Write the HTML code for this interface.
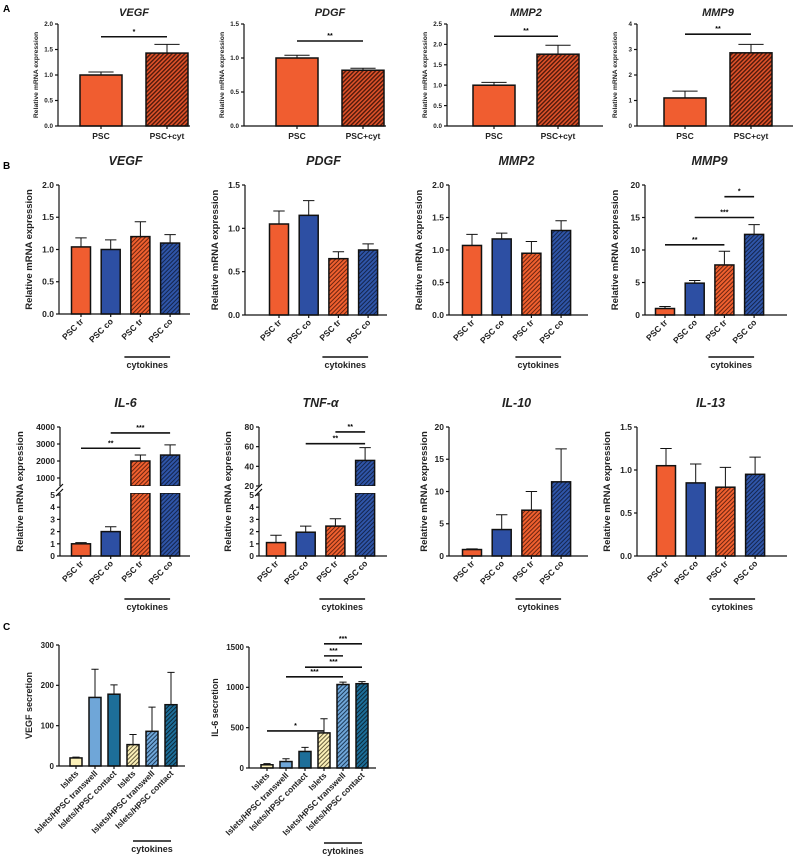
<!DOCTYPE html>
<html><head><meta charset="utf-8"><style>
body{margin:0;background:#fff;}
svg{display:block;font-family:"Liberation Sans",sans-serif;}
</style></head><body>
<svg id="fig" width="797" height="858" viewBox="0 0 797 858" xmlns="http://www.w3.org/2000/svg">
<defs>
<pattern id="hA" patternUnits="userSpaceOnUse" width="3" height="3" patternTransform="rotate(45)"><rect width="3" height="3" fill="#e0522a"/><rect width="1.4" height="3" fill="#4e190b"/></pattern>
<pattern id="hO" patternUnits="userSpaceOnUse" width="3" height="3" patternTransform="rotate(45)"><rect width="3" height="3" fill="#f0602f"/><rect width="1" height="3" fill="#6b2410"/></pattern>
<pattern id="hB" patternUnits="userSpaceOnUse" width="3" height="3" patternTransform="rotate(45)"><rect width="3" height="3" fill="#2f55a8"/><rect width="1" height="3" fill="#14254d"/></pattern>
<pattern id="hY" patternUnits="userSpaceOnUse" width="3" height="3" patternTransform="rotate(45)"><rect width="3" height="3" fill="#fbf0b8"/><rect width="1" height="3" fill="#6a6040"/></pattern>
<pattern id="hL" patternUnits="userSpaceOnUse" width="3" height="3" patternTransform="rotate(45)"><rect width="3" height="3" fill="#6fa6d8"/><rect width="1" height="3" fill="#1d3b5a"/></pattern>
<pattern id="hT" patternUnits="userSpaceOnUse" width="3" height="3" patternTransform="rotate(45)"><rect width="3" height="3" fill="#1d6e99"/><rect width="1" height="3" fill="#0b2838"/></pattern>
</defs>
<text x="3" y="12" font-size="10" font-weight="bold">A</text>
<text x="3" y="169" font-size="10" font-weight="bold">B</text>
<text x="3" y="630" font-size="10" font-weight="bold">C</text>
</svg>
<script>
// ---- data ----
const catsA = ['PSC','PSC+cyt'];
const vegfA_vals = [1.0, 1.43];  const vegfA_err = [0.06, 0.17];
const pdgfA_vals = [1.0, 0.82];  const pdgfA_err = [0.04, 0.03];
const mmp2A_vals = [1.0, 1.76];  const mmp2A_err = [0.07, 0.22];
const mmp9A_vals = [1.1, 2.87];  const mmp9A_err = [0.27, 0.33];
const catsB = ['PSC tr','PSC co','PSC tr','PSC co'];
const vegfB_vals = [1.04, 1.0, 1.2, 1.1];   const vegfB_err = [0.14, 0.15, 0.23, 0.13];
const pdgfB_vals = [1.05, 1.15, 0.65, 0.75]; const pdgfB_err = [0.15, 0.17, 0.08, 0.07];
const mmp2B_vals = [1.07, 1.17, 0.95, 1.3];  const mmp2B_err = [0.17, 0.09, 0.18, 0.15];
const mmp9B_vals = [1.0, 4.9, 7.7, 12.4];    const mmp9B_err = [0.3, 0.4, 2.1, 1.5];
const il6B_vals = [1.0, 2.0, 2000, 2350];    const il6B_err = [0.1, 0.4, 350, 600];
const tnfB_vals = [1.1, 1.95, 2.45, 46];     const tnfB_err = [0.6, 0.5, 0.6, 13];
const il10B_vals = [1.0, 4.1, 7.1, 11.5];    const il10B_err = [0.1, 2.3, 2.9, 5.1];
const il13B_vals = [1.05, 0.85, 0.8, 0.95];  const il13B_err = [0.2, 0.22, 0.23, 0.2];
const catsC = ['Islets','Islets/HPSC transwell','Islets/HPSC contact','Islets','Islets/HPSC transwell','Islets/HPSC contact'];
const vegfC_vals = [20, 170, 178, 53, 86, 152];   const vegfC_err = [2, 70, 23, 25, 60, 80];
const il6C_vals = [40, 80, 205, 435, 1035, 1045]; const il6C_err = [15, 35, 50, 175, 30, 25];
const ticksA_vegf=[0,0.5,1,1.5,2], ticksA_pdgf=[0,0.5,1,1.5], ticksA_mmp2=[0,0.5,1,1.5,2,2.5], ticksA_mmp9=[0,1,2,3,4];
const ticksB_2=[0,0.5,1,1.5,2], ticksB_15=[0,0.5,1,1.5], ticksB_20=[0,5,10,15,20];
const ticksIL6_low=[0,1,2,3,4,5], ticksIL6_up=[1000,2000,3000,4000], ticksTNF_up=[20,40,60,80];
const ticksC_vegf=[0,100,200,300], ticksC_il6=[0,500,1000,1500];
const sigA_vegf=[[0,1,1.75,'*']], sigA_pdgf=[[0,1,1.25,'**']], sigA_mmp2=[[0,1,2.2,'**']], sigA_mmp9=[[0,1,3.6,'**']];
const sigB_mmp9=[[0,2,10.8,'**'],[1,3,15,'***'],[2,3,18.2,'*']];
const sigB_il6=[[0,2,2750,'**'],[1,3,3650,'***']];
const sigB_tnf=[[1,3,63,'**'],[2,3,75,'**']];
const sigC_il6=[[0,3,460,'*'],[1,4,1130,'***'],[2,5,1250,'***'],[3,4,1390,'***'],[3,5,1540,'***']];

const NS='http://www.w3.org/2000/svg';
const svg=document.getElementById('fig');
function el(tag,attrs,parent){const e=document.createElementNS(NS,tag);for(const k in attrs)e.setAttribute(k,attrs[k]);(parent||svg).appendChild(e);return e;}

function chart(c){
  const g=el('g',{});
  
  
  let y;
  if(c.brk){
    const b=c.brk;
    y=v=> v<=b.lowMax ? c.yBot-(v/b.lowMax)*(c.yBot-b.lowTop) : b.upBot-((v-b.upMin)/(c.max-b.upMin))*(b.upBot-c.yTop);
  } else y=v=>c.yBot-(v-0)/(c.max)*(c.yBot-c.yTop);
  const cx=i=>c.x0+c.off+i*c.step;
  c.vals.forEach((v,i)=>{
    const x=cx(i)-c.bw/2, fill=c.fills[i];
    if(c.brk && v>c.brk.lowMax){
      const r1=el('rect',{x:x,y:c.brk.lowTop-2,width:c.bw,height:c.yBot-c.brk.lowTop+2,fill:fill,stroke:'#111','stroke-width':1.5},g);
      
      
      const r2=el('rect',{x:x,y:y(v),width:c.bw,height:c.brk.upBot-y(v),fill:fill,stroke:'#111','stroke-width':1.5},g);
      
      
      el('rect',{x:x-1,y:c.brk.upBot,width:c.bw+2,height:c.brk.lowTop-2-c.brk.upBot,fill:'#fff'},g);
    } else {
      const r=el('rect',{x:x,y:y(v),width:c.bw,height:c.yBot-y(v),fill:fill,stroke:'#111','stroke-width':1.5},g);
      
      
    }
    const e=c.errs[i], yt=y(v+e), cap=c.bw*0.3;
    const eb=el('path',{d:`M${cx(i)},${y(v)}V${yt}M${cx(i)-cap},${yt}H${cx(i)+cap}`,stroke:'#111','stroke-width':1,fill:'none'},g);
    
    
  });
  if(c.brk){
    el('path',{d:`M${c.x0},${c.yBot}V${c.brk.lowTop-2}M${c.x0},${c.brk.upBot}V${c.yTop}`,stroke:'#111','stroke-width':1.2,fill:'none'},g);
    el('path',{d:`M${c.x0-4},${c.brk.lowTop+1}L${c.x0+3},${c.brk.lowTop-6}M${c.x0-4},${c.brk.upBot+5}L${c.x0+3},${c.brk.upBot-2}`,stroke:'#111','stroke-width':1.2},g);
  } else el('path',{d:`M${c.x0},${c.yBot}V${c.yTop}`,stroke:'#111','stroke-width':1.2},g);
  const xa=el('path',{d:`M${c.x0},${c.yBot}H${c.xEnd}`,stroke:'#111','stroke-width':1.2},g);
  
  
  c.ticks.forEach(t=>{
    el('path',{d:`M${c.x0-3},${y(t)}H${c.x0}`,stroke:'#111','stroke-width':1.2},g);
    const tx=el('text',{x:c.x0-5,y:y(t)+c.tfs*0.35,'font-size':c.tfs,'font-weight':'bold','text-anchor':'end',fill:'#222'},g);
    tx.textContent=c.fmt(t);
    
    
  });
  c.vals.forEach((v,i)=>el('path',{d:`M${cx(i)},${c.yBot}V${c.yBot+3}`,stroke:'#111','stroke-width':1.2},g));
  c.cats.forEach((s,i)=>{
    let t;
    if(c.rot){
      t=el('text',{x:cx(i)+3,y:c.yBot+8,'font-size':c.xfs,'font-weight':'bold','text-anchor':'end',transform:`rotate(-45 ${cx(i)+3} ${c.yBot+8})`,fill:'#222'},g);
    } else t=el('text',{x:cx(i),y:c.yBot+13,'font-size':c.xfs,'font-weight':'bold','text-anchor':'middle',fill:'#222'},g);
    t.textContent=s;
    
    
  });
  const ym=(c.yTop+c.yBot)/2, yx=c.x0-c.ylOff;
  const yl=el('text',{x:yx,y:ym,'font-size':c.yfs,'font-weight':'bold','text-anchor':'middle',transform:`rotate(-90 ${yx} ${ym})`,fill:'#222'},g);
  yl.textContent=c.ylabel;
  
  
  if(c.title){
    const tt=el('text',{x:(cx(0)+cx(c.vals.length-1))/2,y:c.titleY,'font-size':c.titfs,'font-weight':'bold','font-style':'italic','text-anchor':'middle',fill:'#222'},g);
    tt.textContent=c.title;
    
    
  }
  (c.sigs||[]).forEach(s=>{
    const yy=y(s[2]);
    const ln=el('path',{d:`M${cx(s[0])},${yy}H${cx(s[1])}`,stroke:'#111','stroke-width':1.6},g);
    
    
    const st=el('text',{x:(cx(s[0])+cx(s[1]))/2,y:yy-3,'font-size':7,'font-weight':'bold','text-anchor':'middle'},g);
    st.textContent=s[3];
    
    
  });
  if(c.cyto){
    const a=cx(c.cyto.from)+c.cyto.dl, b=cx(c.cyto.to)+c.cyto.dr;
    el('path',{d:`M${a},${c.cyto.y}H${b}`,stroke:'#111','stroke-width':1.6},g);
    const ct=el('text',{x:(a+b)/2,y:c.cyto.y+11,'font-size':9,'font-weight':'bold','text-anchor':'middle',fill:'#222'},g);
    ct.textContent='cytokines';
    
    
  }
}
const f1=v=>v.toFixed(1), f0=v=>String(v);
const RM='Relative mRNA expression';
const A=(name,x0,off,step,xEnd,max,ticks,fmt,vals,errs,sigs,title)=>chart({name,x0,off,step,xEnd,yTop:24,yBot:126,max,ticks,fmt,vals,errs,sigs,title,cats:catsA,bw:42,fills:['#f05d30','url(#hA)'],tfs:6.3,xfs:8.5,yfs:6.8,ylOff:20,titfs:11,titleY:16,ylabel:RM});
A('chart-a-vegf',58,43,66,190,2,ticksA_vegf,f1,vegfA_vals,vegfA_err,sigA_vegf,'VEGF');
A('chart-a-pdgf',244,53,66,386,1.5,ticksA_pdgf,f1,pdgfA_vals,pdgfA_err,sigA_pdgf,'PDGF');
A('chart-a-mmp2',447,47,64,603,2.5,ticksA_mmp2,f1,mmp2A_vals,mmp2A_err,sigA_mmp2,'MMP2');
A('chart-a-mmp9',637,48,66,793,4,ticksA_mmp9,f0,mmp9A_vals,mmp9A_err,sigA_mmp9,'MMP9');
const fB=['#f05d30','#2d4fa3','url(#hO)','url(#hB)'];
const B=(o)=>chart(Object.assign({cats:catsB,bw:19,step:29.7,fills:fB,tfs:8.5,xfs:8.5,yfs:9.5,ylOff:27,titfs:12.5,rot:true,ylabel:RM},o));
B({name:'chart-b-vegf',x0:59,off:22,xEnd:190,yTop:185,yBot:314,max:2,ticks:ticksB_2,fmt:f1,vals:vegfB_vals,errs:vegfB_err,title:'VEGF',titleY:165,cyto:{from:2,to:3,dl:-16,dr:0,y:357}});
B({name:'chart-b-pdgf',x0:245,off:34,xEnd:387,yTop:185,yBot:315,max:1.5,ticks:ticksB_15,fmt:f1,vals:pdgfB_vals,errs:pdgfB_err,title:'PDGF',titleY:165,cyto:{from:2,to:3,dl:-16,dr:0,y:357}});
B({name:'chart-b-mmp2',x0:449,off:23,xEnd:588,yTop:185,yBot:315,max:2,ticks:ticksB_2,fmt:f1,vals:mmp2B_vals,errs:mmp2B_err,title:'MMP2',titleY:165,cyto:{from:2,to:3,dl:-16,dr:0,y:357}});
B({name:'chart-b-mmp9',x0:645,off:20,xEnd:787,yTop:185,yBot:315,max:20,ticks:ticksB_20,fmt:f0,vals:mmp9B_vals,errs:mmp9B_err,sigs:sigB_mmp9,title:'MMP9',titleY:165,cyto:{from:2,to:3,dl:-16,dr:0,y:357}});
B({name:'chart-b-il6',x0:60,off:21,xEnd:190,yTop:427,yBot:556,max:4000,ticks:ticksIL6_low.concat(ticksIL6_up),fmt:f0,vals:il6B_vals,errs:il6B_err,sigs:sigB_il6,title:'IL-6',titleY:407,ylOff:37,brk:{lowMax:5,lowTop:495,upMin:530,upBot:486},cyto:{from:2,to:3,dl:-16,dr:0,y:599}});
B({name:'chart-b-tnf',x0:259,off:17,xEnd:387,yTop:427,yBot:556,max:80,ticks:ticksIL6_low.concat(ticksTNF_up),fmt:f0,vals:tnfB_vals,errs:tnfB_err,sigs:sigB_tnf,title:'TNF-α',titleY:407,ylOff:28,brk:{lowMax:5,lowTop:495,upMin:20,upBot:486},cyto:{from:2,to:3,dl:-16,dr:0,y:599}});
B({name:'chart-b-il10',x0:449,off:23,xEnd:588,yTop:427,yBot:556,max:20,ticks:ticksB_20,fmt:f0,vals:il10B_vals,errs:il10B_err,title:'IL-10',titleY:407,ylOff:22,cyto:{from:2,to:3,dl:-16,dr:0,y:599}});
B({name:'chart-b-il13',x0:637,off:29,xEnd:787,yTop:427,yBot:556,max:1.5,ticks:ticksB_15,fmt:f1,vals:il13B_vals,errs:il13B_err,title:'IL-13',titleY:407,cyto:{from:2,to:3,dl:-16,dr:0,y:599}});
const fC=['#fbf0b8','#6fa6d8','#1d6e99','url(#hY)','url(#hL)','url(#hT)'];
const C=(o)=>chart(Object.assign({cats:catsC,bw:12,step:19,fills:fC,tfs:8,xfs:8.3,yfs:9,ylOff:27,rot:true},o));
C({name:'chart-c-vegf',x0:59,off:17,xEnd:185,yTop:645,yBot:766,max:300,ticks:ticksC_vegf,fmt:f0,vals:vegfC_vals,errs:vegfC_err,ylabel:'VEGF secretion',cyto:{from:3,to:5,dl:0,dr:0,y:841}});
C({name:'chart-c-il6',x0:249,off:18,xEnd:376,yTop:647,yBot:768,max:1500,ticks:ticksC_il6,fmt:f0,vals:il6C_vals,errs:il6C_err,sigs:sigC_il6,ylabel:'IL-6 secretion',ylOff:31,cyto:{from:3,to:5,dl:0,dr:0,y:843}});
</script>
</body></html>
